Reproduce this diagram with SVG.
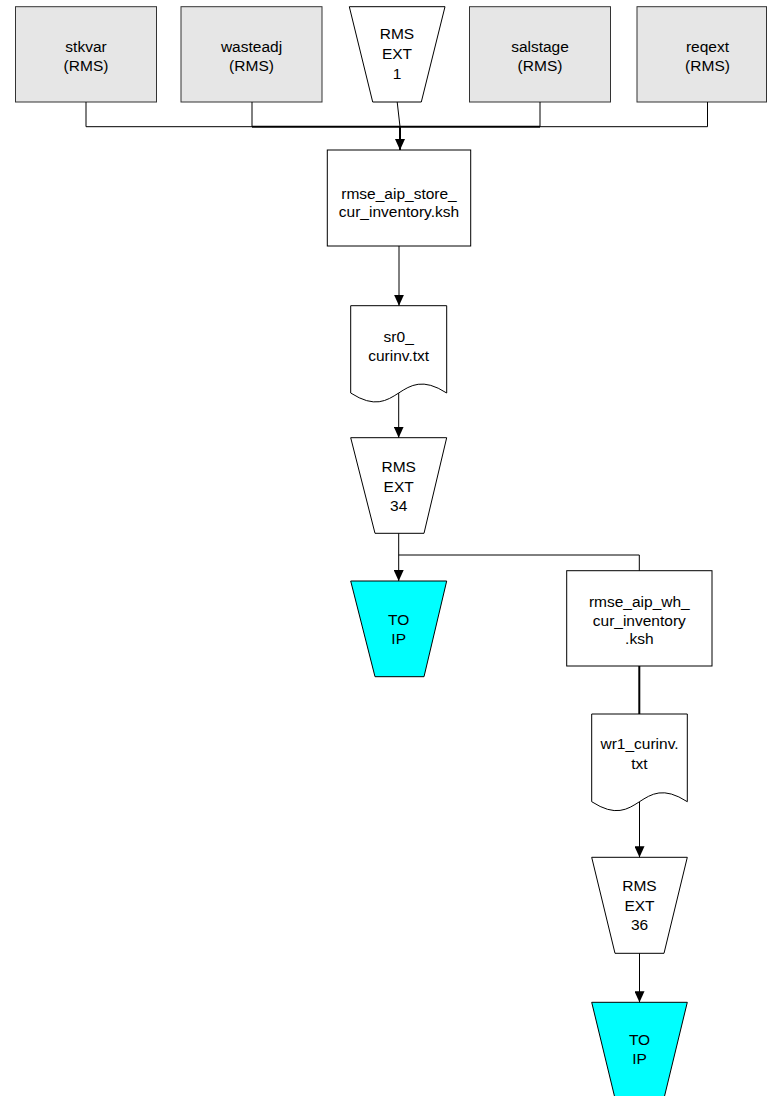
<svg xmlns="http://www.w3.org/2000/svg" width="767" height="1096" viewBox="0 0 767 1096">
<style>
.src{fill:#e6e6e6;stroke:#333;stroke-width:1}
.box{fill:#fff;stroke:#000;stroke-width:1}
.ip{fill:#00ffff;stroke:#000;stroke-width:1}
.t{font-family:"Liberation Sans",Arial,sans-serif;font-size:15.5px;fill:#000;text-anchor:middle}
.c{fill:none;stroke:#000;stroke-width:1}
.ck{fill:none;stroke:#000;stroke-width:2}
</style>
<defs>
<marker id="arr" markerUnits="userSpaceOnUse" viewBox="0 0 11 10" refX="11" refY="5" markerWidth="11" markerHeight="10" orient="auto">
<path d="M0,0 L11,5 L0,10 Z" fill="#000"/>
</marker>
</defs>
<rect width="767" height="1096" fill="#fff"/>

<g id="stkvar">
<rect class="src" x="15.5" y="6.7" width="141" height="95.3"/>
<text class="t"><tspan x="86" y="51.5">stkvar</tspan><tspan x="86" y="70.5">(RMS)</tspan></text>
</g>
<g id="wasteadj">
<rect class="src" x="181" y="6.7" width="141" height="95.3"/>
<text class="t"><tspan x="251.5" y="51.5">wasteadj</tspan><tspan x="251.5" y="70.5">(RMS)</tspan></text>
</g>
<g id="rmsext1">
<polygon class="box" points="349.3,6.7 445,6.7 421.3,102 372.7,102"/>
<text class="t"><tspan x="397" y="38.8">RMS</tspan><tspan x="397" y="58.8">EXT</tspan><tspan x="397" y="78.8">1</tspan></text>
</g>
<g id="salstage">
<rect class="src" x="469.5" y="6.7" width="141" height="95.3"/>
<text class="t"><tspan x="540" y="51.5">salstage</tspan><tspan x="540" y="70.5">(RMS)</tspan></text>
</g>
<g id="reqext">
<rect class="src" x="637" y="6.7" width="129.5" height="95.3"/>
<text class="t"><tspan x="707.5" y="51.5">reqext</tspan><tspan x="707.5" y="70.5">(RMS)</tspan></text>
</g>

<g id="store_ksh">
<rect class="box" x="327.3" y="150" width="143.4" height="96"/>
<text class="t"><tspan x="399" y="198.5">rmse_aip_store_</tspan><tspan x="399" y="217.2">cur_inventory.ksh</tspan></text>
</g>
<g id="sr0_curinv">
<path class="box" d="M350.7,305.7 H446.7 V393 C398.7,362 398.7,424 350.7,393 Z"/>
<text class="t"><tspan x="398.7" y="342.2">sr0_</tspan><tspan x="398.7" y="360.5">curinv.txt</tspan></text>
</g>
<g id="rmsext34">
<polygon class="box" points="350.7,437.7 446.7,437.7 424,533.3 375,533.3"/>
<text class="t"><tspan x="398.7" y="471.5">RMS</tspan><tspan x="398.7" y="491.5">EXT</tspan><tspan x="398.7" y="510.5">34</tspan></text>
</g>
<g id="toip1">
<polygon class="ip" points="350.7,581 446.7,581 424,676.7 375,676.7"/>
<text class="t"><tspan x="398.7" y="624.5">TO</tspan><tspan x="398.7" y="643.5">IP</tspan></text>
</g>

<g id="wh_ksh">
<rect class="box" x="566.7" y="570.7" width="145.3" height="95.3"/>
<text class="t"><tspan x="639.3" y="607.2">rmse_aip_wh_</tspan><tspan x="639.3" y="625.5">cur_inventory</tspan><tspan x="639.3" y="643.8">.ksh</tspan></text>
</g>
<g id="wr1_curinv">
<path class="box" d="M591.7,714 H687.3 V801.7 C639.5,770.7 639.5,832.7 591.7,801.7 Z"/>
<text class="t"><tspan x="639.5" y="748.8">wr1_curinv.</tspan><tspan x="639.5" y="768.8">txt</tspan></text>
</g>
<g id="rmsext36">
<polygon class="box" points="591.7,857.3 687.3,857.3 664,953.3 615,953.3"/>
<text class="t"><tspan x="639.5" y="891.2">RMS</tspan><tspan x="639.5" y="910.5">EXT</tspan><tspan x="639.5" y="929.8">36</tspan></text>
</g>
<g id="toip2">
<polygon class="ip" points="591.7,1002.3 687.3,1002.3 664,1098.3 615,1098.3"/>
<text class="t"><tspan x="639.5" y="1044.5">TO</tspan><tspan x="639.5" y="1063.5">IP</tspan></text>
</g>

<g id="connectors">
<path class="c" d="M86,102 V126.7 H252"/>
<path class="c" d="M252,102 V126.7"/>
<path class="ck" d="M252,126.7 H540"/>
<path class="c" d="M540,102 V126.7 H707.5 V102"/>
<path class="c" d="M397.2,102 L400,126.7"/>
<path class="ck" d="M400,126.7 V150" marker-end="url(#arr)"/>
<path class="c" d="M399,246 V305.7" marker-end="url(#arr)"/>
<path class="c" d="M398.7,393 V437.7" marker-end="url(#arr)"/>
<path class="c" d="M398.7,533.3 V581" marker-end="url(#arr)"/>
<path class="c" d="M398.7,555 H639.3 V570.7"/>
<path class="ck" d="M639.3,666 V714"/>
<path class="c" d="M639.5,801.7 V857.3" marker-end="url(#arr)"/>
<path class="c" d="M639.5,953.3 V1002.3" marker-end="url(#arr)"/>
</g>
</svg>
